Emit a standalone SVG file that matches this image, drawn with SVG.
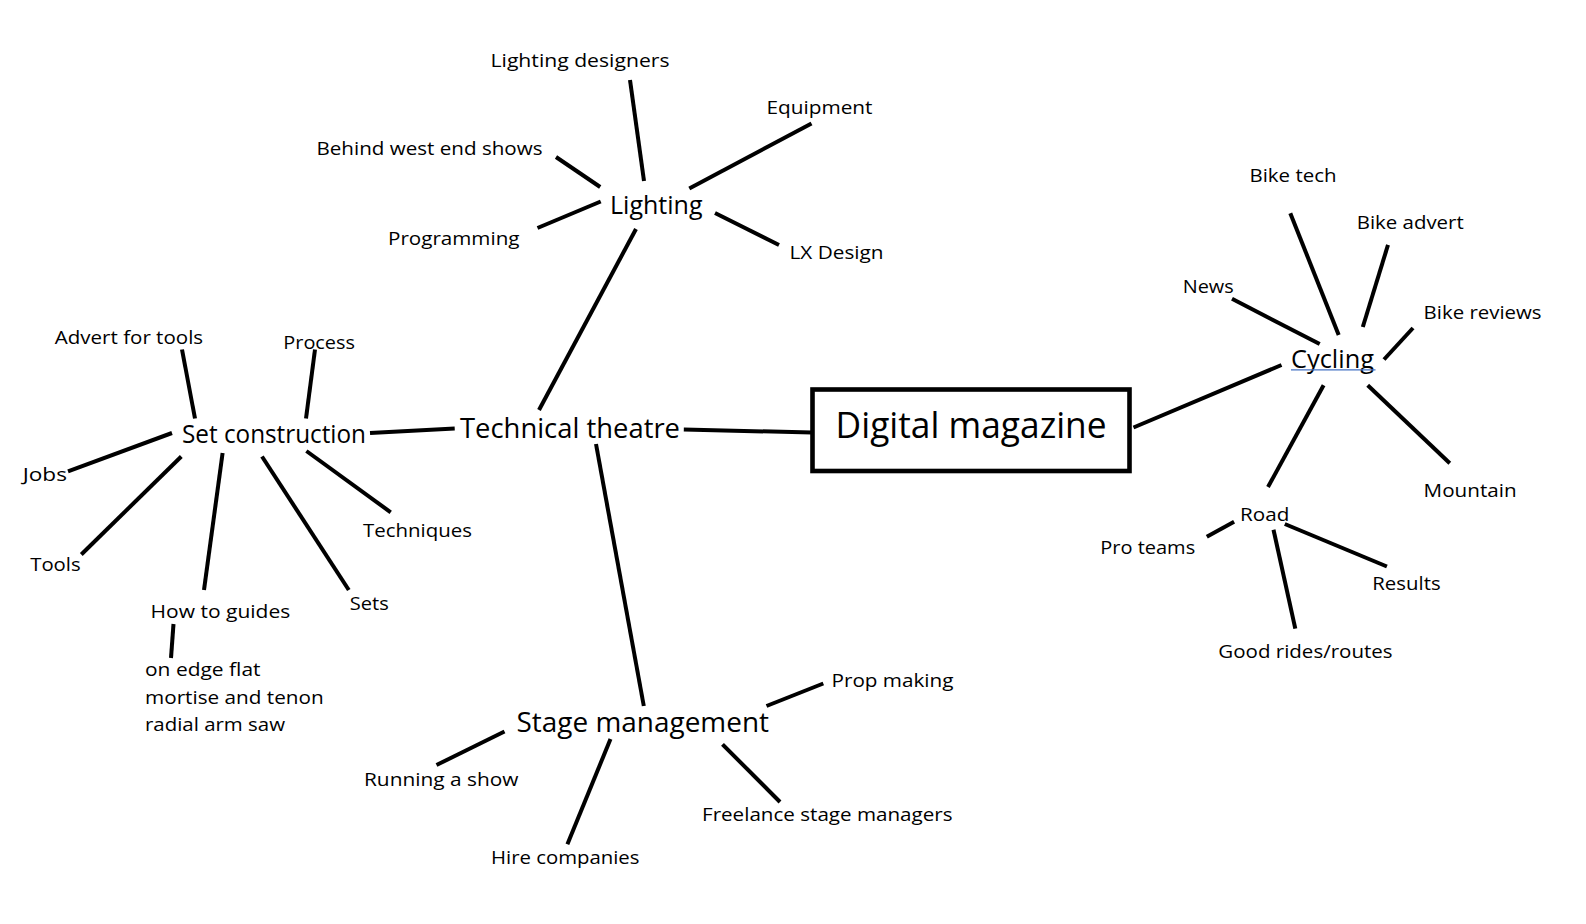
<svg xmlns="http://www.w3.org/2000/svg" width="1586" height="924" viewBox="0 0 1586 924">
<style>
text{font-family:"Open Sans","Noto Sans","Liberation Sans",sans-serif;fill:#000}
.leaf{font-size:19px}
.mid{font-size:25px}
.big{font-size:27.5px}
.root{font-size:37px}
.conn line{stroke:#000;stroke-width:4;stroke-linecap:butt}
</style>
<rect width="1586" height="924" fill="#fff"/>
<g id="connectors" class="conn">
<line x1="636" y1="229" x2="539" y2="410"/>
<line x1="630" y1="80" x2="644" y2="181"/>
<line x1="811.5" y1="123.5" x2="689.3" y2="188.5"/>
<line x1="556" y1="157" x2="600.2" y2="187"/>
<line x1="537.5" y1="228" x2="600.7" y2="201.5"/>
<line x1="715" y1="213" x2="779" y2="245"/>
<line x1="182" y1="349.5" x2="195" y2="418.5"/>
<line x1="315" y1="349.5" x2="306" y2="418.5"/>
<line x1="370" y1="433" x2="454.7" y2="428.5"/>
<line x1="172" y1="433" x2="68" y2="471.3"/>
<line x1="181.3" y1="456.5" x2="81.3" y2="554.5"/>
<line x1="222.6" y1="453" x2="204" y2="590"/>
<line x1="262" y1="456.5" x2="348.8" y2="590"/>
<line x1="306.4" y1="451" x2="390.7" y2="512.3"/>
<line x1="173.5" y1="624" x2="171" y2="658"/>
<line x1="596" y1="444" x2="643.8" y2="706"/>
<line x1="823.3" y1="683.5" x2="766.5" y2="706"/>
<line x1="504.5" y1="731.5" x2="436.5" y2="765"/>
<line x1="610.5" y1="739" x2="567.4" y2="844.3"/>
<line x1="722.5" y1="744.3" x2="780" y2="802"/>
<line x1="683.8" y1="429.5" x2="812" y2="432.5"/>
<line x1="1133.5" y1="427.5" x2="1281.5" y2="365"/>
<line x1="1232" y1="298.8" x2="1319.7" y2="344"/>
<line x1="1290.3" y1="213.2" x2="1338.7" y2="335"/>
<line x1="1388" y1="244.9" x2="1362.8" y2="327"/>
<line x1="1413" y1="328" x2="1384" y2="359.5"/>
<line x1="1367.7" y1="385.2" x2="1449.8" y2="463.3"/>
<line x1="1323.6" y1="385.2" x2="1268" y2="487"/>
<line x1="1234.1" y1="521.8" x2="1206.8" y2="536.7"/>
<line x1="1284.8" y1="524" x2="1386.9" y2="566.5"/>
<line x1="1273.5" y1="529.7" x2="1295.3" y2="628.6"/>
</g>
<g id="digital-magazine">
<rect x="812.5" y="389.5" width="317" height="81.5" fill="none" stroke="#000" stroke-width="4.6"/>
<text class="root" x="835.6" y="438.2" textLength="271" lengthAdjust="spacingAndGlyphs">Digital magazine</text>
</g>
<g id="technical-theatre"><text class="big" x="460" y="437.8" textLength="220" lengthAdjust="spacingAndGlyphs">Technical theatre</text></g>
<g id="lighting"><text class="mid" x="610" y="213.5" textLength="92.5" lengthAdjust="spacingAndGlyphs">Lighting</text></g>
<g id="lighting-designers"><text class="leaf" x="490.5" y="67" textLength="179" lengthAdjust="spacingAndGlyphs">Lighting designers</text></g>
<g id="equipment"><text class="leaf" x="766.5" y="113.5" textLength="106" lengthAdjust="spacingAndGlyphs">Equipment</text></g>
<g id="behind-west-end-shows"><text class="leaf" x="316.5" y="155" textLength="226" lengthAdjust="spacingAndGlyphs">Behind west end shows</text></g>
<g id="programming"><text class="leaf" x="388" y="244.5" textLength="131.5" lengthAdjust="spacingAndGlyphs">Programming</text></g>
<g id="lx-design"><text class="leaf" x="789.5" y="259" textLength="94" lengthAdjust="spacingAndGlyphs">LX Design</text></g>
<g id="set-construction"><text class="mid" x="182" y="442.5" textLength="184" lengthAdjust="spacingAndGlyphs">Set construction</text></g>
<g id="advert-for-tools"><text class="leaf" x="54.8" y="343.5" textLength="148.3" lengthAdjust="spacingAndGlyphs">Advert for tools</text></g>
<g id="process"><text class="leaf" x="283.3" y="348.5" textLength="71.7" lengthAdjust="spacingAndGlyphs">Process</text></g>
<g id="jobs"><text class="leaf" x="22.7" y="481" textLength="44.3" lengthAdjust="spacingAndGlyphs">Jobs</text></g>
<g id="tools"><text class="leaf" x="30.2" y="571.3" textLength="50.5" lengthAdjust="spacingAndGlyphs">Tools</text></g>
<g id="techniques"><text class="leaf" x="363" y="536.5" textLength="109" lengthAdjust="spacingAndGlyphs">Techniques</text></g>
<g id="how-to-guides"><text class="leaf" x="150.5" y="618" textLength="139.8" lengthAdjust="spacingAndGlyphs">How to guides</text></g>
<g id="sets"><text class="leaf" x="349.8" y="610" textLength="39" lengthAdjust="spacingAndGlyphs">Sets</text></g>
<g id="guides-list">
<text class="leaf" x="145" y="675.5" textLength="115.5" lengthAdjust="spacingAndGlyphs">on edge flat</text>
<text class="leaf" x="145" y="703.8" textLength="178.7" lengthAdjust="spacingAndGlyphs">mortise and tenon</text>
<text class="leaf" x="145" y="731" textLength="140" lengthAdjust="spacingAndGlyphs">radial arm saw</text>
</g>
<g id="stage-management"><text class="big" x="516.5" y="731.5" textLength="252.5" lengthAdjust="spacingAndGlyphs">Stage management</text></g>
<g id="prop-making"><text class="leaf" x="831.5" y="687" textLength="122" lengthAdjust="spacingAndGlyphs">Prop making</text></g>
<g id="running-a-show"><text class="leaf" x="364" y="785.5" textLength="154.5" lengthAdjust="spacingAndGlyphs">Running a show</text></g>
<g id="hire-companies"><text class="leaf" x="491" y="863.5" textLength="148.5" lengthAdjust="spacingAndGlyphs">Hire companies</text></g>
<g id="freelance-stage-managers"><text class="leaf" x="702" y="821.3" textLength="250.5" lengthAdjust="spacingAndGlyphs">Freelance stage managers</text></g>
<g id="cycling">
<text class="mid" x="1291" y="367.5" textLength="83" lengthAdjust="spacingAndGlyphs">Cycling</text>
<line x1="1291" y1="369.8" x2="1375.5" y2="369.8" stroke="#4472c4" stroke-width="1.3"/>
</g>
<g id="news"><text class="leaf" x="1182.7" y="293" textLength="51" lengthAdjust="spacingAndGlyphs">News</text></g>
<g id="bike-tech"><text class="leaf" x="1249.5" y="182" textLength="87" lengthAdjust="spacingAndGlyphs">Bike tech</text></g>
<g id="bike-advert"><text class="leaf" x="1356.7" y="228.6" textLength="107" lengthAdjust="spacingAndGlyphs">Bike advert</text></g>
<g id="bike-reviews"><text class="leaf" x="1423.6" y="319" textLength="118" lengthAdjust="spacingAndGlyphs">Bike reviews</text></g>
<g id="mountain"><text class="leaf" x="1423.6" y="497" textLength="93" lengthAdjust="spacingAndGlyphs">Mountain</text></g>
<g id="road"><text class="leaf" x="1240" y="521" textLength="49.3" lengthAdjust="spacingAndGlyphs">Road</text></g>
<g id="pro-teams"><text class="leaf" x="1100.2" y="554" textLength="95" lengthAdjust="spacingAndGlyphs">Pro teams</text></g>
<g id="results"><text class="leaf" x="1372.3" y="590.3" textLength="68.3" lengthAdjust="spacingAndGlyphs">Results</text></g>
<g id="good-rides-routes"><text class="leaf" x="1218.3" y="658" textLength="174.3" lengthAdjust="spacingAndGlyphs">Good rides/routes</text></g>
</svg>
